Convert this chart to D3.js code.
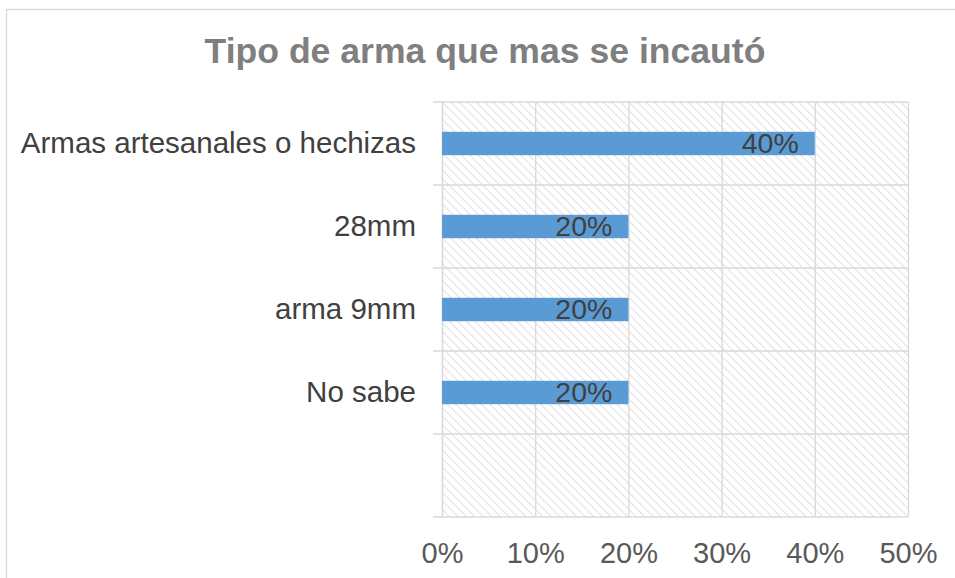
<html>
<head>
<meta charset="utf-8">
<script src="https://d3js.org/d3.v7.min.js"></script>
<style>
  body { margin: 0; background: #fff; }
  text { font-family: "Liberation Sans", Arial, sans-serif; }
</style>
</head>
<body>
<div id="chart"></div>
<script>
// data
var categories = ["Armas artesanales o hechizas", "28mm", "arma 9mm", "No sabe"];
var values = [0.40, 0.20, 0.20, 0.20];
var xTicks = [0, 0.1, 0.2, 0.3, 0.4, 0.5];
var title = "Tipo de arma que mas se incautó";

var W = 955, H = 578;
var plotL = 442, plotR = 908, plotT = 102, plotB = 517;

var svg = d3.select("#chart").append("svg")
  .attr("width", W).attr("height", H);

// hatch pattern for plot area
var defs = svg.append("defs");
var pat = defs.append("pattern")
  .attr("id", "hatch")
  .attr("patternUnits", "userSpaceOnUse")
  .attr("width", 6).attr("height", 6)
  .attr("patternTransform", "rotate(-45)");
pat.append("rect").attr("width", 6).attr("height", 6).attr("fill", "#fff");
pat.append("line")
  .attr("x1", 0).attr("y1", 0).attr("x2", 0).attr("y2", 6)
  .attr("stroke", "#e0e0e0").attr("stroke-width", 2);

// chart frame (only left and top are visible)
svg.append("rect")
  .attr("x", 6.5).attr("y", 9.5)
  .attr("width", W + 20).attr("height", H + 20)
  .attr("fill", "none").attr("stroke", "#d9d9d9").attr("stroke-width", 1.3);

var x = d3.scaleLinear().domain([0, 0.5]).range([plotL, plotR]);
// one empty slot at the bottom, like the original
var y = d3.scaleBand().domain(categories.concat([" "])).range([plotT, plotB]).padding(0);

svg.append("rect")
  .attr("x", plotL).attr("y", plotT)
  .attr("width", plotR - plotL).attr("height", plotB - plotT)
  .attr("fill", "url(#hatch)");

// vertical gridlines + tick labels
var xaxis = d3.axisBottom(x)
  .tickValues(xTicks)
  .tickFormat(d3.format(".0%"))
  .tickSize(-(plotB - plotT))
  .tickPadding(20);
var gx = svg.append("g").attr("transform", "translate(0," + plotB + ")").call(xaxis);
gx.select(".domain").remove();
gx.selectAll("line").attr("stroke", "#d9d9d9").attr("stroke-width", 1.3);
gx.selectAll("text")
  .attr("fill", "#595959")
  .style("font-size", "29px")
  .attr("dy", "0")
  .attr("y", 46);

// horizontal band boundary lines with small ticks to the left
var bounds = y.domain().map(function(d) { return y(d); }).concat([plotB]);
svg.append("g").selectAll("line")
  .data(bounds)
  .enter()
  .append("line")
  .attr("x1", plotL - 9).attr("x2", plotR)
  .attr("y1", function(d) { return d; })
  .attr("y2", function(d) { return d; })
  .attr("stroke", "#d9d9d9").attr("stroke-width", 1.3);

// category labels
var yaxis = d3.axisLeft(y).tickSize(0).tickPadding(26);
var gy = svg.append("g").attr("transform", "translate(" + plotL + ",0)").call(yaxis);
gy.select(".domain").attr("stroke", "#d9d9d9").attr("stroke-width", 1.3);
gy.selectAll("text")
  .attr("fill", "#404040")
  .style("font-size", "29.5px");

// bars
var barH = 23.4;
svg.append("g").selectAll("rect")
  .data(values)
  .enter()
  .append("rect")
  .attr("x", x(0))
  .attr("y", function(d, i) { return y(categories[i]) + y.bandwidth() / 2 - barH / 2; })
  .attr("width", function(d) { return x(d) - x(0); })
  .attr("height", barH)
  .attr("fill", "#5b9bd5");

// data labels (inside end)
svg.append("g").selectAll("text")
  .data(values)
  .enter()
  .append("text")
  .attr("x", function(d) { return x(d) - 16; })
  .attr("y", function(d, i) { return y(categories[i]) + y.bandwidth() / 2; })
  .attr("dy", "0.35em")
  .attr("text-anchor", "end")
  .attr("fill", "#404040")
  .style("font-size", "28.5px")
  .text(function(d) { return d3.format(".0%")(d); });

// title
svg.append("text")
  .attr("x", 485).attr("y", 63)
  .attr("text-anchor", "middle")
  .attr("fill", "#7f7f7f")
  .style("font-size", "35.6px")
  .style("font-weight", "bold")
  .text(title);
</script>
</body>
</html>
